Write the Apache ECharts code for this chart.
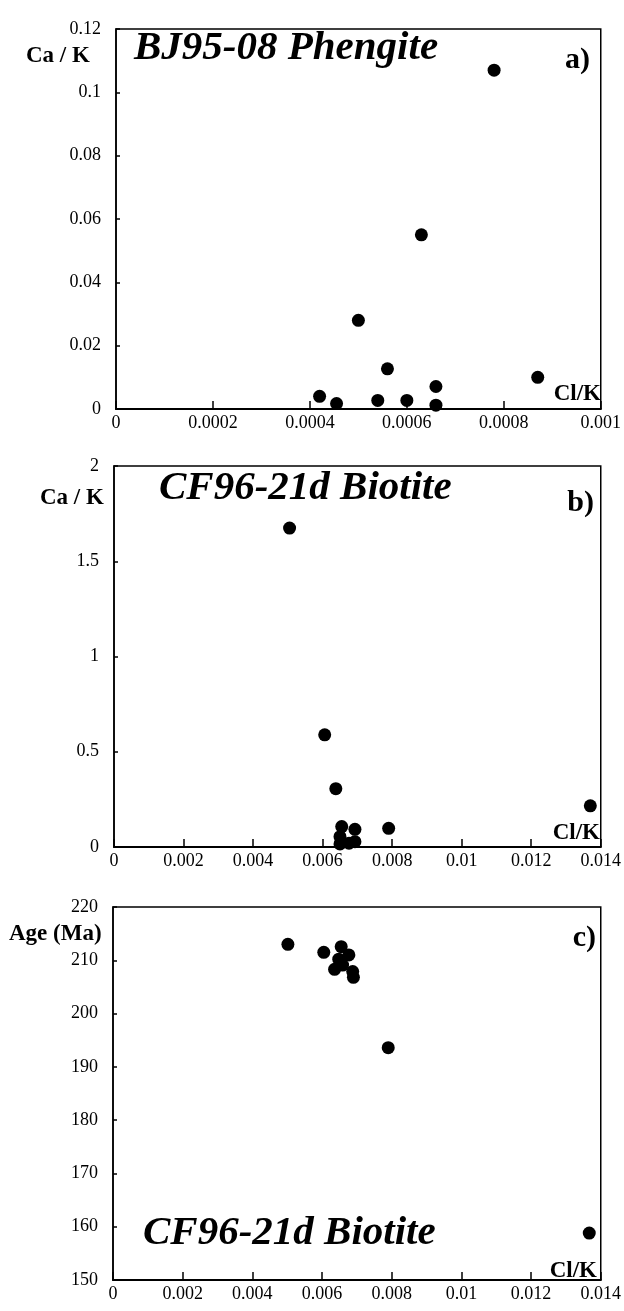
<!DOCTYPE html>
<html>
<head>
    <meta charset="utf-8">
    <title>Cl/K plots</title>
    <script src="https://cdn.jsdelivr.net/npm/echarts@6/dist/echarts.min.js"></script>
</head>
<body style="margin:0;background:#fff;">
<div id="main" style="width:624px;height:1311px;"></div>
<script type="text/javascript">
    // a) BJ95-08 Phengite
    var phenClK = [0.00078, 0.00063, 0.0005, 0.00056, 0.00066, 0.00087, 0.00042, 0.000455, 0.00054, 0.0006, 0.00066];
    var phenCaK = [0.107, 0.055, 0.028, 0.0127, 0.0071, 0.010, 0.004, 0.0017, 0.0027, 0.0027, 0.0012];

    // b) CF96-21d Biotite, Ca/K
    var bioClK = [0.00505, 0.00606, 0.00638, 0.0137, 0.0079, 0.00655, 0.00693, 0.0065, 0.0065, 0.00676, 0.00693];
    var bioCaK = [1.674, 0.589, 0.306, 0.216, 0.098, 0.107, 0.093, 0.054, 0.016, 0.02, 0.028];

    // c) CF96-21d Biotite, age
    var ageClK = [0.00502, 0.00605, 0.00655, 0.00677, 0.00648, 0.00636, 0.00688, 0.0069, 0.00659, 0.0079, 0.01367];
    var ageMa = [213.0, 211.5, 212.55, 211.0, 210.2, 208.3, 207.9, 206.8, 209.1, 193.6, 158.8];

    var serif = '"Liberation Serif", "Times New Roman", serif';

    function pairs(xs, ys) {
        var out = [];
        for (var i = 0; i < xs.length; i++) {
            out.push([xs[i], ys[i]]);
        }
        return out;
    }

    function fmt(v) {
        return String(+(+v).toPrecision(10));
    }

    function xAx(idx, max, step) {
        return {
            type: 'value', gridIndex: idx, min: 0, max: max, interval: step,
            axisLine: {show: true, onZero: false, lineStyle: {color: '#000', width: 2}},
            axisTick: {show: true, inside: true, length: 8, lineStyle: {color: '#000', width: 1.5}},
            axisLabel: {color: '#000', fontFamily: serif, fontSize: 18, margin: 5, formatter: fmt},
            splitLine: {show: false}
        };
    }

    function yAx(idx, min, max, step) {
        return {
            type: 'value', gridIndex: idx, min: min, max: max, interval: step,
            axisLine: {show: true, onZero: false, lineStyle: {color: '#000', width: 1.5}},
            axisTick: {show: true, inside: true, length: 4, lineStyle: {color: '#000', width: 1.5}},
            axisLabel: {color: '#000', fontFamily: serif, fontSize: 18, margin: 15,
                padding: [0, 0, 8, 0], formatter: fmt},
            splitLine: {show: false}
        };
    }

    function dots(idx, xs, ys) {
        return {
            type: 'scatter', xAxisIndex: idx, yAxisIndex: idx, symbolSize: 13,
            itemStyle: {color: '#000', opacity: 1}, data: pairs(xs, ys)
        };
    }

    function txt(s, x, y, font, align) {
        return {
            type: 'text', z: 10,
            style: {text: s, x: x, y: y, font: font, fill: '#000',
                align: align || 'left', verticalAlign: 'middle'}
        };
    }

    var titleFont = 'italic bold 41px ' + serif;
    var nameFont = 'bold 23px ' + serif;
    var tagFont = 'bold 30px ' + serif;

    var myChart = echarts.init(document.getElementById('main'));

    option = {
        backgroundColor: '#fff',
        animation: false,
        grid: [
            {left: 116, top: 29, width: 488, height: 380, show: true, borderColor: '#000', borderWidth: 1.5},
            {left: 114, top: 466, width: 489, height: 381, show: true, borderColor: '#000', borderWidth: 1.5},
            {left: 113, top: 907, width: 489, height: 373, show: true, borderColor: '#000', borderWidth: 1.5}
        ],
        xAxis: [
            xAx(0, 0.001, 0.0002),
            xAx(1, 0.014, 0.002),
            xAx(2, 0.014, 0.002)
        ],
        yAxis: [
            yAx(0, 0, 0.12, 0.02),
            yAx(1, 0, 2, 0.5),
            yAx(2, 150, 220, 10)
        ],
        series: [
            dots(0, phenClK, phenCaK),
            dots(1, bioClK, bioCaK),
            dots(2, ageClK, ageMa)
        ],
        graphic: [
            // panel a
            txt('BJ95-08 Phengite', 134, 48, titleFont),
            txt('a)', 590, 60, tagFont, 'right'),
            txt('Ca / K', 26, 56, nameFont),
            txt('Cl/K', 601, 394, nameFont, 'right'),
            // panel b
            txt('CF96-21d Biotite', 159, 488, titleFont),
            txt('b)', 594, 503, tagFont, 'right'),
            txt('Ca / K', 40, 498, nameFont),
            txt('Cl/K', 600, 833, nameFont, 'right'),
            // panel c
            txt('CF96-21d Biotite', 143, 1233, titleFont),
            txt('c)', 596, 938, tagFont, 'right'),
            txt('Age (Ma)', 9, 934, nameFont),
            txt('Cl/K', 597, 1271, nameFont, 'right')
        ]
    };

    myChart.setOption(option);
</script>
</body>
</html>
